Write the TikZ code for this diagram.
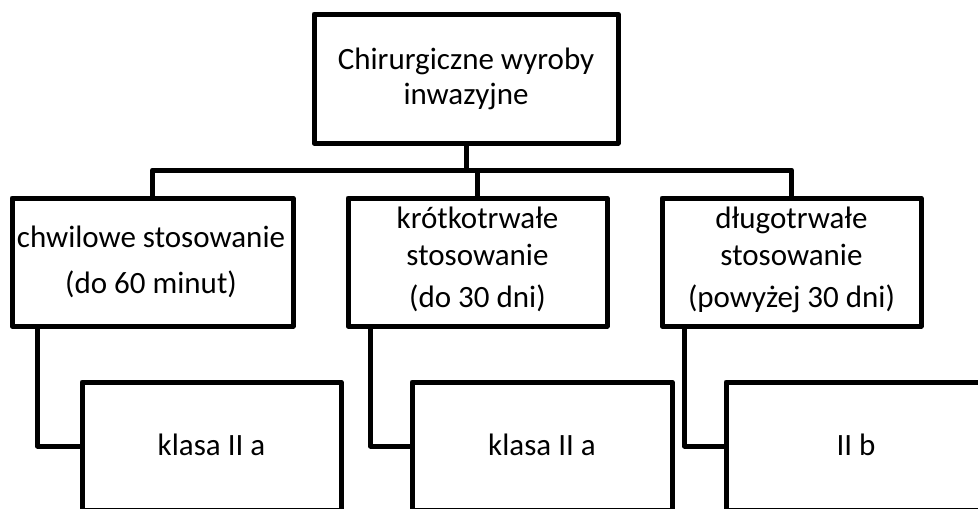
\documentclass[tikz,border=0pt]{standalone}
\usepackage{fontspec}
\setmainfont{Carlito}
\tikzset{
  boxnode/.style={draw, line width=5pt, line join=round, minimum width=#1, minimum height=128pt, inner sep=0pt},
  link/.style={line width=5pt, line join=round},
  txt/.style={anchor=base, inner sep=0pt, font=\fontsize{31}{35}\selectfont}
}
\begin{document}
\begin{tikzpicture}[x=1pt,y=-1pt]
\useasboundingbox (0,0) rectangle (978,509);
\clip (0,0) rectangle (978,509);
% boxes
\node[boxnode=304pt, minimum height=129pt] (top) at (466,78.5) {};
\node[boxnode=281pt] (left) at (152.5,262) {};
\node[boxnode=259pt] (mid) at (477.5,262) {};
\node[boxnode=259pt] (right) at (791.5,262) {};
\node[boxnode=259pt] (bl) at (211.5,446) {};
\node[boxnode=260pt] (bm) at (542,446) {};
\node[boxnode=260pt] (br) at (856,446) {};
% texts
\node[txt] (t1) at (466,69) {Chirurgiczne wyroby};
\node[txt] (t2) at (466,104) {inwazyjne};
\node[txt] (l1) at (151,247) {chwilowe stosowanie};
\node[txt] (l2) at (151,293) {(do 60 minut)};
\node[txt] (m1) at (477.5,228) {krótkotrwałe};
\node[txt] (m2) at (477.5,265) {stosowanie};
\node[txt] (m3) at (477.5,307) {(do 30 dni)};
\node[txt] (r1) at (791.5,228) {długotrwałe};
\node[txt] (r2) at (791.5,265) {stosowanie};
\node[txt] (r3) at (791.5,307) {(powyżej 30 dni)};
\node[txt] (b1) at (211.5,455) {klasa II a};
\node[txt] (b2) at (542,455) {klasa II a};
\node[txt] (b3) at (856,455) {II b};
% connectors
\coordinate (bus) at (466,170);
\draw[link] (top.south) -- (bus);
\draw[link] (left.north) |- (bus) -| (right.north);
\draw[link] (mid.north) -- (mid.north |- bus);
\draw[link] ([xshift=28pt]left.south west) |- (bl.west);
\draw[link] ([xshift=25pt]mid.south west) |- (bm.west);
\draw[link] ([xshift=25pt]right.south west) |- (br.west);
\end{tikzpicture}
\end{document}
